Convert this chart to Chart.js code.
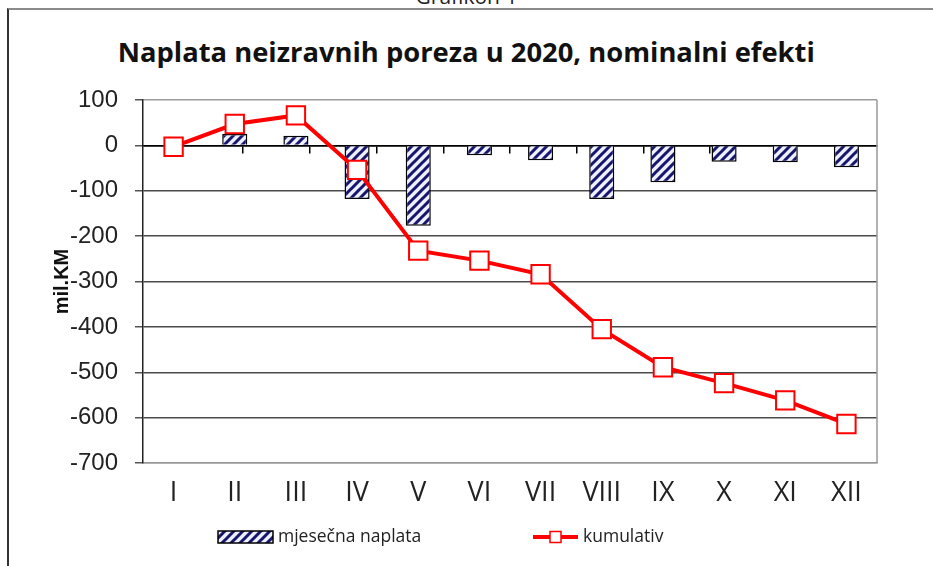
<!DOCTYPE html>
<html><head><meta charset="utf-8">
<script src="https://cdn.jsdelivr.net/npm/chart.js@4.4.1/dist/chart.umd.min.js"></script>
<style>
html,body{margin:0;padding:0;background:#fff;overflow:hidden;}
#wrap{position:relative;width:933px;height:566px;overflow:hidden;background:#fff;}
#frame{position:absolute;left:7px;top:8px;width:940px;height:600px;border-left:2px solid #333;border-top:2px solid #8a8a8a;}
#sup{position:absolute;left:0;width:933px;top:-14px;text-align:center;font:400 21px/1 'Open Sans',sans-serif;color:#222;}
#title{position:absolute;left:0;width:933px;top:39px;text-align:center;font:700 26px/1 'Open Sans',sans-serif;color:#111;white-space:nowrap;}
#title span{display:inline-block;transform-origin:center;}
canvas{position:absolute;left:0;top:0;}
</style></head>
<body>
<div id="wrap">
  <div id="sup">Grafikon 1</div>
  <div id="frame"></div>
  <div id="title"><span id="tspan">Naplata neizravnih poreza u 2020, nominalni efekti</span></div>
  <canvas id="c" width="933" height="566"></canvas>
</div>
<script>
// ---- data ----
const months = ['I','II','III','IV','V','VI','VII','VIII','IX','X','XI','XII'];
const monthly = [-3, 25, 21, -118, -177, -22, -33, -118, -81, -36, -37, -48];
const cumulative = [-3, 47, 66, -54, -232, -254, -284, -405, -489, -524, -562, -614];
const yMin = -700, yMax = 100, yStep = 100;
const seriesNames = ['mjesečna naplata', 'kumulativ'];
const yTitle = 'mil.KM';

// title width fit
(function(){
  const s = document.getElementById('tspan');
  const w = s.getBoundingClientRect().width;
  s.style.transform = 'scaleX(' + (697 / w) + ')';
})();

function makeHatch(){
  const n = 9;
  const c = document.createElement('canvas'); c.width = n; c.height = n;
  const g = c.getContext('2d');
  g.fillStyle = '#eef0ff'; g.fillRect(0,0,n,n);
  g.strokeStyle = '#16166e'; g.lineWidth = 3;
  g.beginPath();
  g.moveTo(-2, n+2); g.lineTo(n+2, -2);
  g.moveTo(-2, 2); g.lineTo(2, -2);
  g.moveTo(n-2, n+2); g.lineTo(n+2, n-2);
  g.stroke();
  return g.createPattern(c, 'repeat');
}
const hatch = makeHatch();

const frameRight = {
  id: 'frameRight',
  beforeDatasetsDraw(chart){
    const {ctx, chartArea: a} = chart;
    ctx.save(); ctx.strokeStyle = '#999'; ctx.lineWidth = 1.5;
    ctx.beginPath(); ctx.moveTo(a.right, a.top); ctx.lineTo(a.right, a.bottom); ctx.stroke();
    ctx.restore();
  }
};

const customLegend = {
  id: 'customLegend',
  afterDraw(chart){
    const ctx = chart.ctx;
    ctx.save();
    const cy = 537;
    ctx.fillStyle = hatch; ctx.fillRect(218, 531, 55, 12);
    ctx.strokeStyle = '#000'; ctx.lineWidth = 1.5; ctx.strokeRect(218, 531, 55, 12);
    ctx.font = "400 17.5px 'Open Sans', sans-serif";
    ctx.fillStyle = '#222'; ctx.textBaseline = 'middle'; ctx.textAlign = 'left';
    ctx.fillText(seriesNames[0], 278, cy);
    ctx.strokeStyle = '#ff0000'; ctx.lineWidth = 4;
    ctx.beginPath(); ctx.moveTo(533, cy); ctx.lineTo(578, cy); ctx.stroke();
    ctx.fillStyle = '#fff'; ctx.lineWidth = 1.5;
    ctx.fillRect(550, cy-5.5, 11, 11); ctx.strokeRect(550, cy-5.5, 11, 11);
    ctx.fillStyle = '#222';
    ctx.fillText(seriesNames[1], 583, cy);
    ctx.restore();
  }
};

new Chart(document.getElementById('c'), {
  data: {
    labels: months,
    datasets: [
      {
        type: 'line', label: seriesNames[1], data: cumulative, order: 0,
        borderColor: '#ff0000', borderWidth: 4, tension: 0,
        pointStyle: 'rect', pointRadius: 13, pointHoverRadius: 13,
        pointBackgroundColor: '#fff', pointBorderColor: '#ff0000', pointBorderWidth: 2
      },
      {
        type: 'bar', label: seriesNames[0], data: monthly, order: 1,
        backgroundColor: hatch, borderColor: '#000', borderWidth: 1.5,
        barPercentage: 0.41, categoryPercentage: 1
      }
    ]
  },
  options: {
    responsive: false, animation: false,
    layout: { padding: { left: 0, top: 100, right: 56, bottom: 53 } },
    plugins: { legend: { display: false }, title: { display: false }, tooltip: { enabled: false } },
    scales: {
      x: {
        type: 'category', position: 'bottom',
        grid: { display: false, drawTicks: false },
        border: { display: true, color: '#999', width: 1.5 },
        ticks: { font: { family: "'Open Sans', sans-serif", size: 27 }, color: '#222', padding: 14, autoSkip: false, maxRotation: 0 },
        afterFit(s){ s.height = 50; }
      },
      x2: {
        type: 'category', axis: 'x', labels: months, position: { y: 0 },
        grid: { display: true, drawOnChartArea: false, drawTicks: true, tickLength: 7, color: '#000', lineWidth: 1.5, offset: true },
        ticks: { display: false },
        border: { display: true, color: '#000', width: 1.5 }
      },
      y: {
        min: yMin, max: yMax,
        ticks: { stepSize: yStep, font: { family: "'Liberation Sans', Arial, sans-serif", size: 24 }, color: '#222', padding: 17 },
        grid: {
          color: c => { const v = c.tick ? c.tick.value : null; if (v === 0) return '#000'; if (v === yMax || v === yMin) return '#9a9a9a'; return '#4a4a4a'; },
          lineWidth: 1.5, tickLength: 8, tickColor: '#555'
        },
        border: { display: true, color: '#222', width: 1.5 },
        title: { display: true, text: yTitle, font: { family: "'Liberation Sans', Arial, sans-serif", size: 20, weight: 'bold' }, color: '#111', padding: { top: 50, bottom: 0 } },
        afterFit(s){ s.width = 143; }
      }
    }
  },
  plugins: [frameRight, customLegend]
});
</script>
</body></html>
